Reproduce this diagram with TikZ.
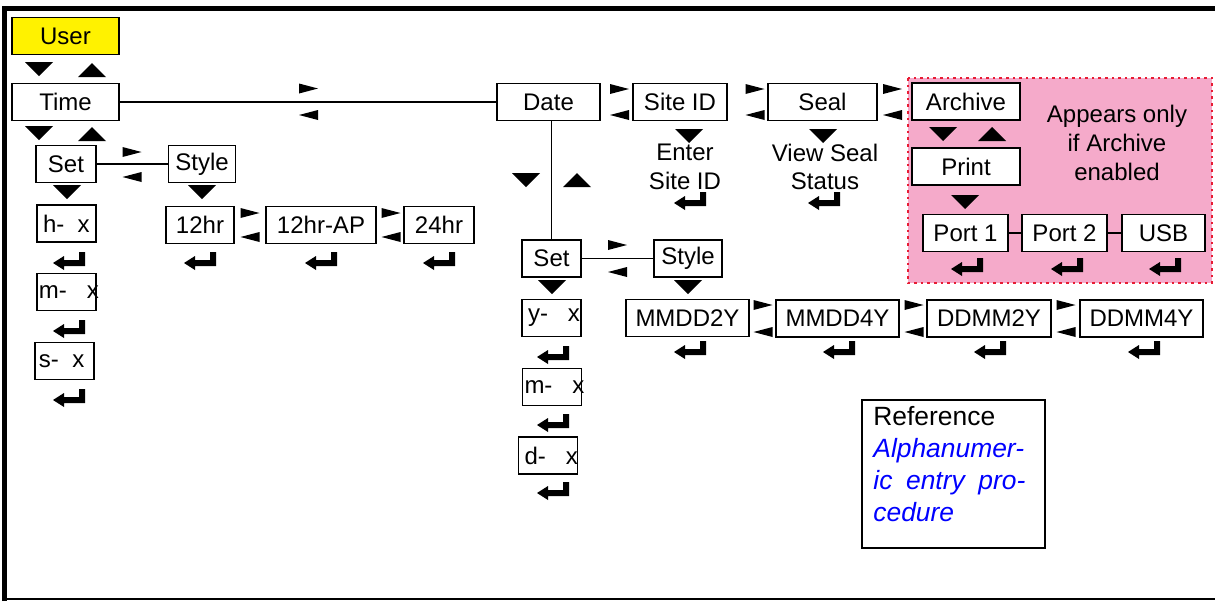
\documentclass[tikz,border=0pt]{standalone}
\usepackage{fontspec}
\setmainfont{Liberation Sans}
\definecolor{useryellow}{RGB}{255,242,0}
\definecolor{archpink}{RGB}{245,170,202}
\definecolor{dotred}{RGB}{232,28,52}
\definecolor{refblue}{RGB}{0,0,255}

\tikzset{
  tridown/.pic={\fill (-14,0) -- (14,0) -- (0,14) -- cycle;},
  triup/.pic={\fill (-14,14) -- (14,14) -- (0,0) -- cycle;},
  tipright/.pic={\fill (-9.5,-5) -- (9.5,0) -- (-9.5,5) -- cycle;},
  tipleft/.pic={\fill (9.5,-5) -- (-9.5,0) -- (9.5,5) -- cycle;},
  enterkey/.pic={\fill (10,-8) -- (16,-8) -- (16,6) -- (-5,6) -- (-5,10)
    -- (-16,3) -- (-5,-4) -- (-5,0) -- (10,0) -- cycle;}
}
% fixed width entry, text may run over the border
\newcommand{\entrytext}[1]{\makebox[27.5pt][l]{#1}}

\begin{document}
\begin{tikzpicture}[x=0.5pt,y=-0.5pt,
  box/.style={draw,line width=0.9pt,fill=white,minimum height=18.5pt,
    inner sep=1pt,font=\fontsize{12}{14}\selectfont},
  xbox/.style={box,minimum width=29.5pt},
  label/.style={align=center,inner sep=0pt,font=\fontsize{12}{14.2}\selectfont}]

  \useasboundingbox (0,0) rectangle (1215,601);

  % frame
  \draw[line width=2.5pt] (4.5,601) -- (4.5,8.5) -- (1215,8.5);
  \draw[line width=0.8pt] (4.5,599) -- (1215,599);

  % archive area
  \draw[dotred,fill=archpink,line width=1.3pt,dotted] (908,78) rectangle (1212,283);

  % time branch
  \node[box,minimum width=53.5pt,fill=useryellow] (user) at (65.5,36) {User};
  \node[box,minimum width=53.5pt] (time) at (65.5,102) {Time};
  \node[box,minimum width=30pt] (tset) at (66,164) {Set};
  \node[box,minimum width=33.5pt] (tstyle) at (202,164) {Style};
  \node[xbox] (hx) at (66.5,223.5) {\entrytext{\hspace{2pt}h-\ \ x}};
  \node[xbox] (mx) at (66.5,292) {\entrytext{m-\ \ \ x}};
  \node[xbox] (sx) at (64.5,361) {\entrytext{\hspace{1pt}s-\ \ x}};
  \node[box,minimum width=34pt] (h12) at (200,225) {12hr};
  \node[box,minimum width=55pt] (h12ap) at (321,225) {12hr-AP};
  \node[box,minimum width=35pt] (h24) at (439,225) {24hr};

  % top row
  \node[box,minimum width=51.5pt] (date) at (548.5,102) {Date};
  \node[box,minimum width=47pt] (siteid) at (680,102) {Site ID};
  \node[box,minimum width=54.5pt] (seal) at (822.5,102) {Seal};
  \node[box,minimum width=54pt] (archive) at (966,101.5) {Archive};
  \node[box,minimum width=54pt] (print) at (966,166.5) {Print};
  \node[box,minimum width=42.5pt] (port1) at (965.5,233) {Port 1};
  \node[box,minimum width=42.5pt] (port2) at (1064.5,233) {Port 2};
  \node[box,minimum width=41.5pt] (usb) at (1163.5,233) {USB};

  \node[label] (enter) at (685,167) {Enter\\Site ID};
  \node[label] (viewseal) at (825,167) {View Seal\\Status};
  \node[label,font=\fontsize{12}{14.3}\selectfont] (appears) at (1117,143)
    {Appears only\\if Archive\\enabled};

  % date branch
  \node[box,minimum width=29.5pt] (dset) at (551.5,258.5) {Set};
  \node[box,minimum width=34pt] (dstyle) at (688,258.5) {Style};
  \node[xbox] (yx) at (551.5,318) {\entrytext{\hspace{2pt}y-\ \ \ x}};
  \node[xbox] (dmx) at (552,387) {\entrytext{m-\ \ \ x}};
  \node[xbox] (ddx) at (548,455.5) {\entrytext{\hspace{2pt}d-\ \ \ x}};
  \node[box,minimum width=61.5pt] (mmdd2y) at (687.5,318) {MMDD2Y};
  \node[box,minimum width=61.5pt] (mmdd4y) at (837.5,318.5) {MMDD4Y};
  \node[box,minimum width=62pt] (ddmm2y) at (989,318.5) {DDMM2Y};
  \node[box,minimum width=61.5pt] (ddmm4y) at (1141.5,318.5) {DDMM4Y};

  % reference note
  \node[draw,line width=1pt,minimum width=91.5pt,minimum height=74pt] (refbox) at (953.5,474) {};
  \node[anchor=north west,inner sep=0pt,text width=77pt,align=left,
    font=\fontsize{13.2}{16}\selectfont] (reftext) at (873,406)
    {Reference\\
     \color{refblue}\itshape Alphanumer-\\
     \makebox[76pt][l]{ic\hfill entry\hfill pro-}\\
     cedure};

  % connectors
  \path[draw,line width=0.8pt]
    (time) -- (date)
    (tset) -- (tstyle)
    (dset) -- (dstyle)
    (date.south -| dset.north) -- (dset.north)
    (port1) -- (port2) -- (usb);

  % up / down keys
  \pic at (39,62) {tridown};   \pic at (92,63) {triup};
  \pic at (39,126) {tridown};  \pic at (92,127) {triup};
  \pic at (67,185) {tridown};  \pic at (202,185) {tridown};
  \pic at (526,173) {tridown}; \pic at (577,173) {triup};
  \pic at (689,129) {tridown}; \pic at (823,129) {tridown};
  \pic at (943,127) {tridown}; \pic at (992,127) {triup};
  \pic at (965,195) {tridown};
  \pic at (552,280) {tridown}; \pic at (688,280) {tridown};

  % left / right keys
  \pic at (308.5,88.5) {tipright};  \pic at (308.5,115) {tipleft};
  \pic at (132,152) {tipright};     \pic at (132,177) {tipleft};
  \pic at (250,213) {tipright};     \pic at (250,237) {tipleft};
  \pic at (391,213) {tipright};     \pic at (391,237) {tipleft};
  \pic at (619.5,89) {tipright};    \pic at (619.5,115) {tipleft};
  \pic at (755,89) {tipright};      \pic at (755,115) {tipleft};
  \pic at (892.5,89) {tipright};    \pic at (892.5,115) {tipleft};
  \pic at (617.5,245) {tipright};   \pic at (617.5,272) {tipleft};
  \pic at (763,305) {tipright};     \pic at (763,332) {tipleft};
  \pic at (914,305) {tipright};     \pic at (914,332) {tipleft};
  \pic at (1066,305) {tipright};    \pic at (1066,332) {tipleft};

  % enter keys
  \pic at (69,260) {enterkey};   \pic at (69,328) {enterkey};
  \pic at (69,397) {enterkey};
  \pic at (200,260) {enterkey};  \pic at (321,260) {enterkey};
  \pic at (439,260) {enterkey};
  \pic at (690,200) {enterkey};  \pic at (824,200) {enterkey};
  \pic at (967,266) {enterkey};  \pic at (1067,266) {enterkey};
  \pic at (1165,266) {enterkey};
  \pic at (553,354) {enterkey};  \pic at (690,349) {enterkey};
  \pic at (839,349) {enterkey};  \pic at (990,349) {enterkey};
  \pic at (1144,349) {enterkey};
  \pic at (553,422) {enterkey};  \pic at (553,490) {enterkey};

\end{tikzpicture}
\end{document}
